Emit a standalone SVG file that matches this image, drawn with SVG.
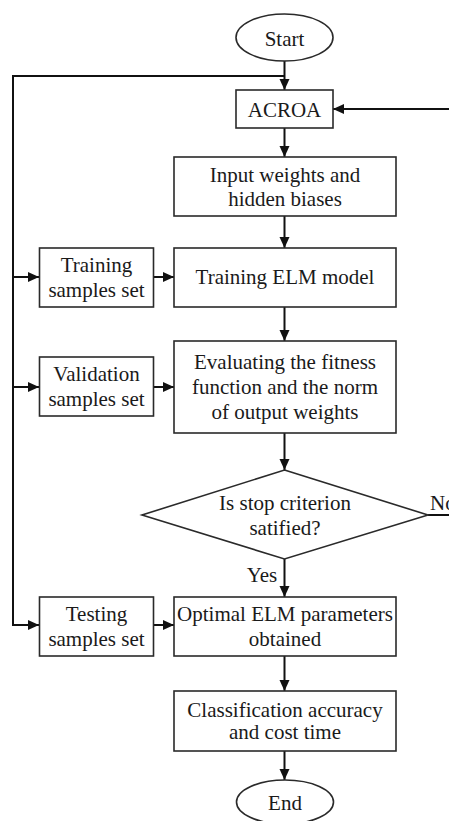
<svg xmlns="http://www.w3.org/2000/svg" width="449" height="821" viewBox="0 0 449 821">
<style>
.box{fill:#fff;stroke:#2a2a2a;stroke-width:1.6}
.t{font-family:"Liberation Serif","Times New Roman",serif;font-size:21px;fill:#1a1a1a;text-anchor:middle}
.c{fill:none;stroke:#111;stroke-width:2}
</style>
<defs>
<marker id="ah" markerUnits="userSpaceOnUse" markerWidth="12" markerHeight="11" refX="11" refY="5" orient="auto">
<path d="M0,0 L11,5 L0,10 z" fill="#111"/>
</marker>
</defs>
<rect width="449" height="821" fill="#fff"/>
<g id="connectors">
<line class="c" x1="284.5" y1="61" x2="284.5" y2="90" marker-end="url(#ah)"/>
<polyline class="c" points="284.5,76 13,76 13,625 39,625" marker-end="url(#ah)"/>
<line class="c" x1="13" y1="277" x2="39" y2="277" marker-end="url(#ah)"/>
<line class="c" x1="13" y1="387" x2="39" y2="387" marker-end="url(#ah)"/>
<line class="c" x1="284.5" y1="128" x2="284.5" y2="157" marker-end="url(#ah)"/>
<line class="c" x1="284.5" y1="216" x2="284.5" y2="248" marker-end="url(#ah)"/>
<line class="c" x1="153" y1="277" x2="174" y2="277" marker-end="url(#ah)"/>
<line class="c" x1="284.5" y1="307" x2="284.5" y2="341" marker-end="url(#ah)"/>
<line class="c" x1="153" y1="387" x2="174" y2="387" marker-end="url(#ah)"/>
<line class="c" x1="284.5" y1="433" x2="284.5" y2="470" marker-end="url(#ah)"/>
<line class="c" x1="284.5" y1="559" x2="284.5" y2="597" marker-end="url(#ah)"/>
<polyline class="c" points="428,515 458,515 458,109 333,109" marker-end="url(#ah)"/>
<line class="c" x1="153" y1="625" x2="174" y2="625" marker-end="url(#ah)"/>
<line class="c" x1="284.5" y1="656" x2="284.5" y2="691" marker-end="url(#ah)"/>
<line class="c" x1="284.5" y1="751" x2="284.5" y2="780" marker-end="url(#ah)"/>
<text class="t" x="262" y="582">Yes</text>
<text class="t" x="430" y="510" style="text-anchor:start">No</text>
</g>
<g id="start">
<ellipse class="box" cx="284.5" cy="37.5" rx="48.5" ry="23.5"/>
<text class="t" x="284.5" y="46">Start</text>
</g>
<g id="acroa">
<rect class="box" x="236" y="90" width="97" height="38"/>
<text class="t" x="284.5" y="117">ACROA</text>
</g>
<g id="input-weights">
<rect class="box" x="174" y="157" width="222" height="59"/>
<text class="t" x="285" y="182">Input weights and</text>
<text class="t" x="285" y="206">hidden biases</text>
</g>
<g id="training-samples">
<rect class="box" x="39.5" y="248" width="114" height="59"/>
<text class="t" x="96.5" y="272">Training</text>
<text class="t" x="96.5" y="297">samples set</text>
</g>
<g id="training-elm">
<rect class="box" x="174" y="248" width="222" height="59"/>
<text class="t" x="285" y="284">Training ELM model</text>
</g>
<g id="validation-samples">
<rect class="box" x="39.5" y="357" width="114" height="59"/>
<text class="t" x="96.5" y="381">Validation</text>
<text class="t" x="96.5" y="406">samples set</text>
</g>
<g id="evaluating">
<rect class="box" x="174" y="341" width="222" height="92"/>
<text class="t" x="285" y="369">Evaluating the fitness</text>
<text class="t" x="285" y="394">function and the norm</text>
<text class="t" x="285" y="419">of output weights</text>
</g>
<g id="decision">
<polygon class="box" points="284.5,470 428,515 284.5,559 142,515"/>
<text class="t" x="285" y="510">Is stop criterion</text>
<text class="t" x="285" y="535">satified?</text>
</g>
<g id="testing-samples">
<rect class="box" x="39.5" y="597" width="114" height="59"/>
<text class="t" x="96.5" y="621">Testing</text>
<text class="t" x="96.5" y="646">samples set</text>
</g>
<g id="optimal">
<rect class="box" x="174" y="597" width="222" height="59"/>
<text class="t" x="285" y="621">Optimal ELM parameters</text>
<text class="t" x="285" y="646">obtained</text>
</g>
<g id="classification">
<rect class="box" x="174" y="691" width="222" height="60"/>
<text class="t" x="285" y="717">Classification accuracy</text>
<text class="t" x="285" y="739">and cost time</text>
</g>
<g id="end">
<ellipse class="box" cx="285" cy="802" rx="48.5" ry="22"/>
<text class="t" x="285" y="810">End</text>
</g>
</svg>
